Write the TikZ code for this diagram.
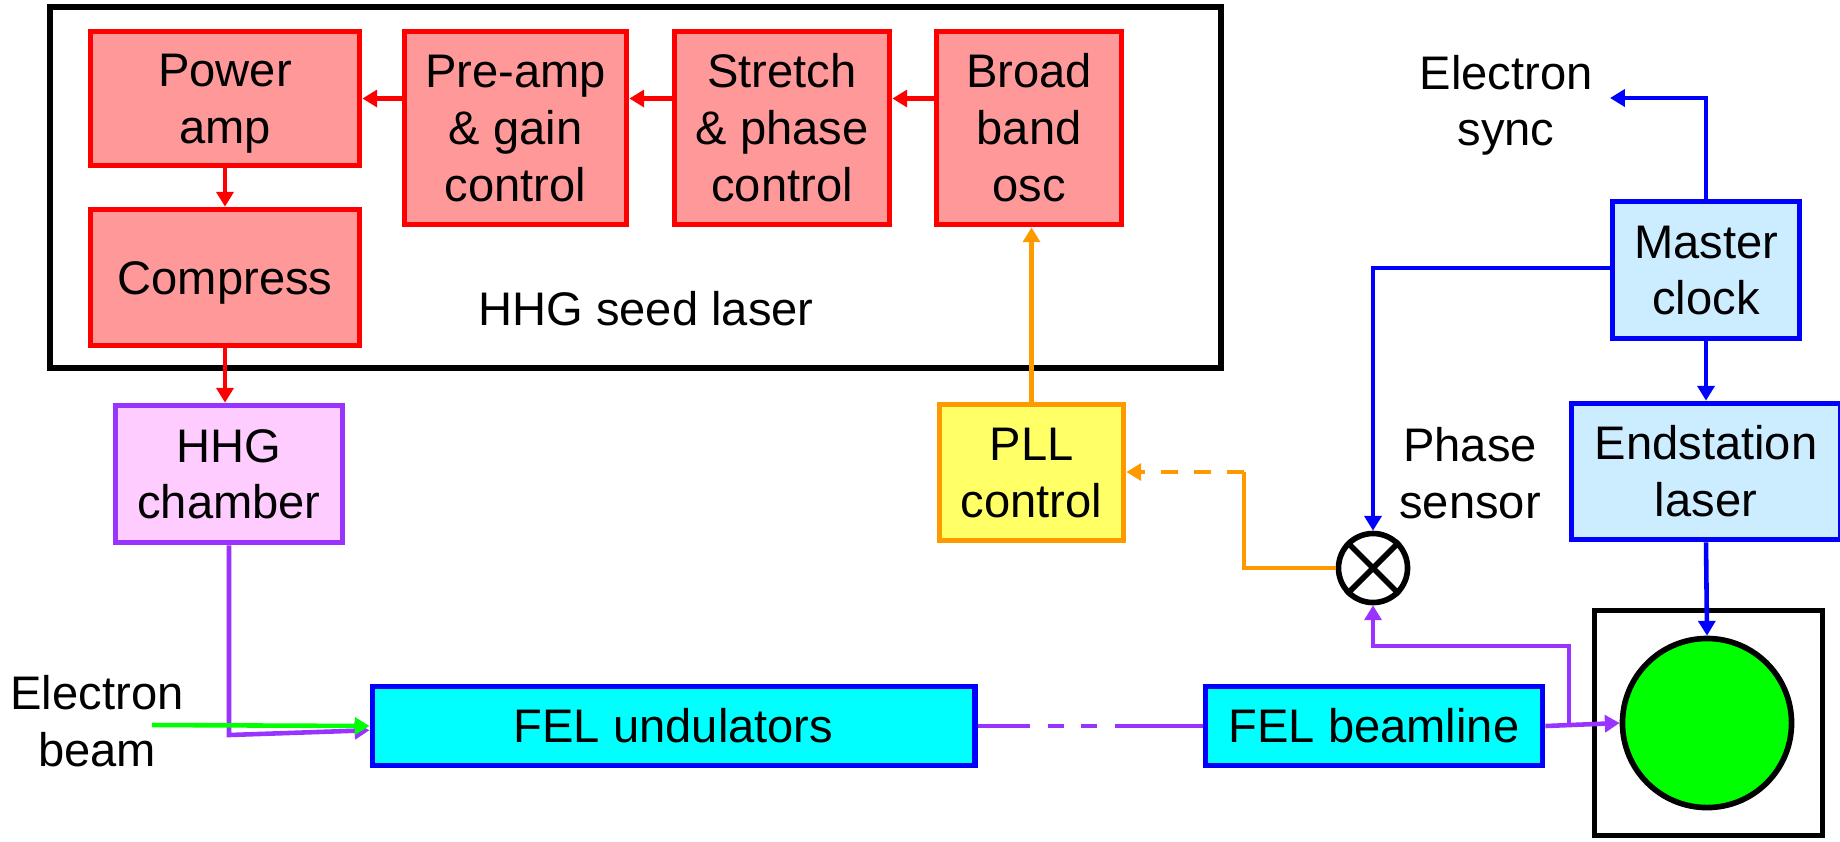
\documentclass[tikz,border=0pt]{standalone}
\usepackage{fontspec}
\setmainfont{Liberation Sans}
\usetikzlibrary{arrows.meta}

\definecolor{laserred}{HTML}{FF0000}
\definecolor{laserfill}{HTML}{FF9999}
\definecolor{hhgpurple}{HTML}{9933FF}
\definecolor{hhgfill}{HTML}{FFCCFF}
\definecolor{pllorange}{HTML}{FF9900}
\definecolor{pllfill}{HTML}{FFFF66}
\definecolor{clockblue}{HTML}{0000FF}
\definecolor{clockfill}{HTML}{CCECFF}
\definecolor{felcyan}{HTML}{00FFFF}
\definecolor{beamgreen}{HTML}{00FF00}

% line box as in the slide: ascent + descent
\newcommand{\pptstrut}{\rule[-0.21em]{0pt}{1.12em}}

\tikzset{
  block/.style={draw, line width=1.6pt, align=center, inner sep=0pt,
    execute at begin node=\pptstrut, execute at end node=\pptstrut},
  note/.style={align=center, inner sep=0pt,
    execute at begin node=\pptstrut, execute at end node=\pptstrut},
  seed/.style={block, draw=laserred, fill=laserfill},
  hhg/.style={block, draw=hhgpurple, fill=hhgfill},
  pll/.style={block, draw=pllorange, fill=pllfill},
  clock/.style={block, draw=clockblue, fill=clockfill},
  fel/.style={block, draw=clockblue, fill=felcyan},
  flow/.style={line width=1.3pt, -{Triangle[length=4.2pt,width=4.8pt]}},
}

\begin{document}
\begin{tikzpicture}[x=0.01cm, y=-0.01cm, font=\fontsize{13.4pt}{16.2pt}\selectfont]

\useasboundingbox (0,0) rectangle (1840,841);

% HHG seed laser
\draw[line width=1.6pt] (50,7) rectangle (1221,368);
\node[seed, minimum width=2.69cm, minimum height=1.34cm] (power) at (225,98.5) {\pptstrut Power\\amp};
\node[seed, minimum width=2.69cm, minimum height=1.36cm] (compress) at (225,277.5) {Compress};
\node[seed, minimum width=2.22cm, minimum height=1.93cm] (preamp) at (515.5,128) {\pptstrut Pre-amp\\\& gain\\control};
\node[seed, minimum width=2.15cm, minimum height=1.93cm] (stretch) at (782,128) {\pptstrut Stretch\\\& phase\\control};
\node[seed, minimum width=1.85cm, minimum height=1.93cm] (broad) at (1029,128) {\pptstrut Broad\\band\\osc};
\node[note] (seedname) at (646,309) {HHG seed laser};

\draw[flow, laserred] (broad.west |- power.east) -- (stretch.east |- power.east);
\draw[flow, laserred] (stretch.west |- power.east) -- (preamp.east |- power.east);
\draw[flow, laserred] (preamp.west |- power.east) -- (power.east);
\draw[flow, laserred] (power.south) -- (compress.north);

% HHG chamber and FEL
\node[hhg, minimum width=2.27cm, minimum height=1.37cm] (hhgc) at (229,474) {\pptstrut HHG\\chamber};
\draw[flow, laserred] (compress.south) -- (compress.south |- hhgc.north);

\node[fel, minimum width=6.02cm, minimum height=0.79cm] (und) at (673.5,726) {FEL undulators};
\node[fel, minimum width=3.37cm, minimum height=0.79cm] (beam) at (1374,726) {FEL beamline};
\node[note] (ebeamname) at (97,721) {\pptstrut Electron\\beam};

\coordinate (hbend) at (229,735);
\coordinate (ebeam) at (152,725);
\draw[flow, hhgpurple] (hhgc.south) -- (hbend) -- ([yshift=-1.2pt]und.west);
\draw[flow, beamgreen] (ebeam) -- (und.west);
\draw[hhgpurple, line width=1.3pt,
  dash pattern=on 15pt off 5pt on 4.5pt off 5pt on 4.5pt off 5pt on 40pt] (und.east) -- (beam.west);

% endstation
\node[draw, line width=1.6pt, minimum width=2.28cm, minimum height=2.25cm] (stage) at (1708.5,723) {};
\node[draw, circle, line width=1.6pt, fill=beamgreen, minimum size=1.69cm, inner sep=0pt] (target) at (1707,723) {};
\draw[flow, hhgpurple] (beam.east) -- (target.west);

\node[clock, minimum width=1.87cm, minimum height=1.37cm] (mclock) at (1706,270) {\pptstrut Master\\clock};
\node[clock, minimum width=2.69cm, minimum height=1.36cm] (endst) at (1706,471.5) {\pptstrut Endstation\\laser};
\node[note] (syncname) at (1506,101) {\pptstrut Electron\\sync};

\coordinate (esync) at (1610,98);
\draw[flow, clockblue] (mclock.north) |- (esync);
\draw[flow, clockblue] (mclock.south) -- (endst.north);
\draw[flow, clockblue] (endst.south) -- (target.north);

% phase sensor and PLL
\node[draw, circle, line width=1.6pt, minimum size=0.69cm, inner sep=0pt] (sensor) at (1373,568) {};
\draw[line width=1.6pt] (sensor.north east) -- (sensor.south west)
  (sensor.north west) -- (sensor.south east);
\node[note] (sensorname) at (1470,473) {\pptstrut Phase\\sensor};

\draw[flow, clockblue] (mclock.west |- 0,268) -| (sensor.north);
\coordinate (pjoin) at (1569,646);
\draw[flow, hhgpurple] (beam.east -| pjoin) -- (pjoin) -| (sensor.south);

\node[pll, minimum width=1.84cm, minimum height=1.36cm] (pll) at (1031.5,472.5) {\pptstrut PLL\\control};
\coordinate (pllbend) at (1244,472);
\draw[pllorange, line width=1.3pt] (sensor.west) -| (pllbend);
\draw[flow, pllorange, dash pattern=on 4.8pt off 4.6pt] (pllbend) -- (pll.east |- pllbend);
\draw[flow, pllorange] (pll.north) -- (pll.north |- broad.south);

\end{tikzpicture}
\end{document}
